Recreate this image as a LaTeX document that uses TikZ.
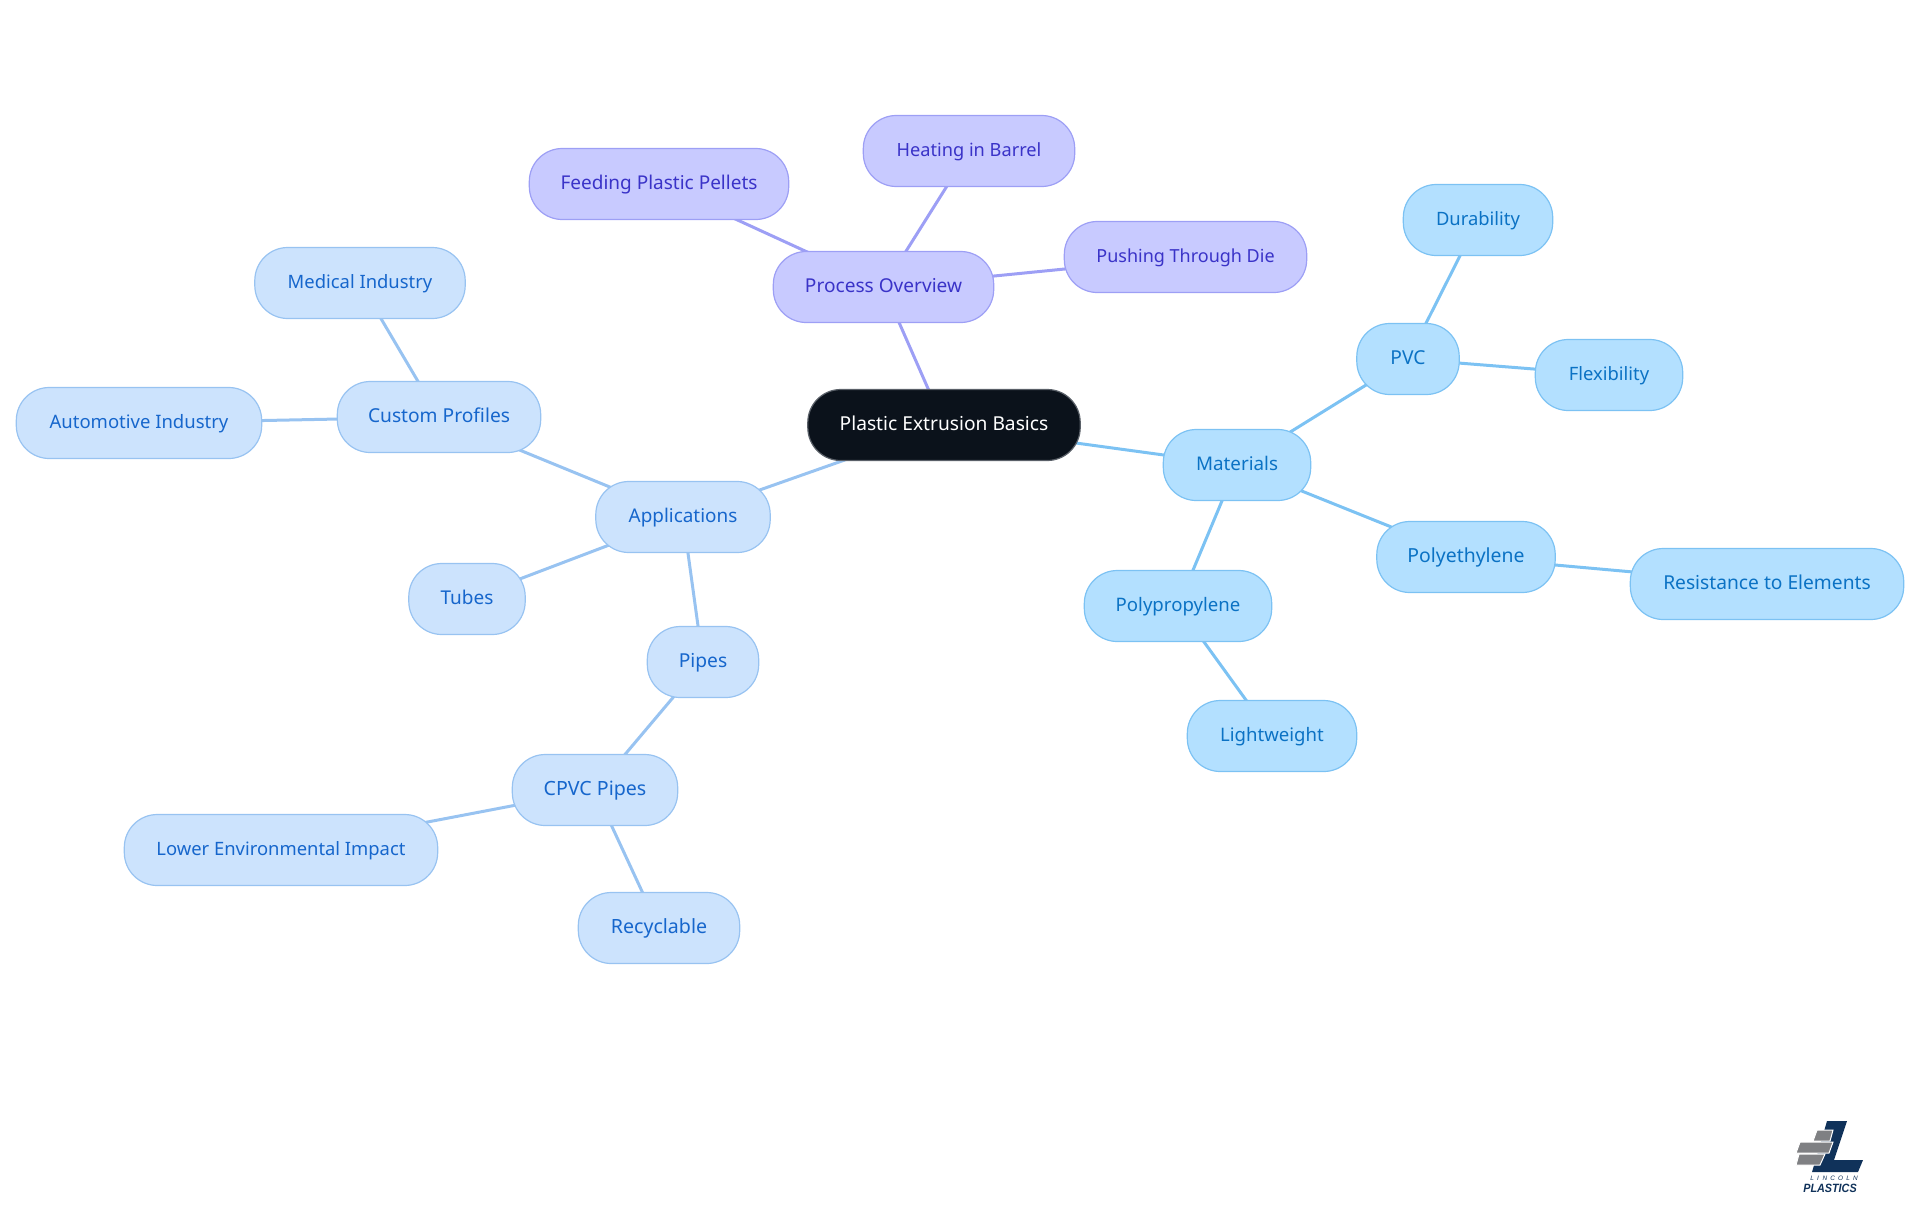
\documentclass[tikz,border=0pt]{standalone}
\usepackage{fontspec}
\setmainfont{Noto Sans}
\newfontfamily\logofont{Liberation Sans}
\usetikzlibrary{backgrounds}
\definecolor{rootfill}{HTML}{0B121B}\definecolor{rootline}{HTML}{5A6068}
\definecolor{pfill}{HTML}{C8CAFF}\definecolor{pline}{HTML}{9D9FF5}\definecolor{ptext}{HTML}{3A33C8}
\definecolor{mfill}{HTML}{B3E0FF}\definecolor{mline}{HTML}{7CC2F3}\definecolor{mtext}{HTML}{0B72C4}
\definecolor{afill}{HTML}{CCE3FD}\definecolor{aline}{HTML}{98C3F1}\definecolor{atext}{HTML}{1666CC}
\definecolor{navy}{HTML}{10325A}\definecolor{logogray}{HTML}{7F8083}
\tikzset{
 pill/.style={rectangle,rounded corners=16.5pt,line width=0.6pt,inner sep=0pt,minimum height=35.5pt,text height=7.5pt,text depth=2.5pt},
 wd/.style 2 args={minimum width=#1*0.5pt-0.3pt,font=\fontsize{#2}{12}\selectfont},
 rootnode/.style={pill,draw=rootline,fill=rootfill,text=white},
 pnode/.style={pill,draw=pline,fill=pfill,text=ptext},
 mnode/.style={pill,draw=mline,fill=mfill,text=mtext},
 anode/.style={pill,draw=aline,fill=afill,text=atext},
 pedge/.style={draw=pline,line width=1.5pt},
 medge/.style={draw=mline,line width=1.5pt},
 aedge/.style={draw=aline,line width=1.5pt},
}
\begin{document}
\begin{tikzpicture}[x=0.5pt,y=-0.5pt]
\useasboundingbox (0,0) rectangle (1920,1215);
\node[rootnode,wd={273}{9.6}] (root) at (944,425) {Plastic Extrusion Basics};
\node[pnode,wd={221}{9.55}] (proc) at (883.5,287) {Process Overview};
\node[pnode,wd={260}{9.5}] (feed) at (659,184) {Feeding Plastic Pellets};
\node[pnode,wd={212}{9.1}] (heat) at (969,151) {Heating in Barrel};
\node[pnode,wd={243}{9.0}] (push) at (1185.5,257) {Pushing Through Die};
\node[mnode,wd={148}{9.4}] (mat) at (1237,465) {Materials};
\node[mnode,wd={103}{9.6}] (pvc) at (1408,359) {PVC};
\node[mnode,wd={150}{9.2}] (dur) at (1478,220) {Durability};
\node[mnode,wd={148}{9.2}] (flex) at (1609,375) {Flexibility};
\node[mnode,wd={179}{9.7}] (pe) at (1466,557) {Polyethylene};
\node[mnode,wd={274}{9.6}] (res) at (1767,584) {Resistance to Elements};
\node[mnode,wd={188}{9.3}] (pp) at (1178,606) {Polypropylene};
\node[mnode,wd={170}{9.3}] (light) at (1272,736) {Lightweight};
\node[anode,wd={175}{9.45}] (app) at (683,517) {Applications};
\node[anode,wd={204}{9.6}] (cust) at (439,417) {Custom Profiles};
\node[anode,wd={211}{9.2}] (med) at (360,283) {Medical Industry};
\node[anode,wd={246}{9.25}] (auto) at (139,423) {Automotive Industry};
\node[anode,wd={117}{9.5}] (tube) at (467,599) {Tubes};
\node[anode,wd={112}{9.6}] (pipe) at (703,662) {Pipes};
\node[anode,wd={166}{9.8}] (cpvc) at (595,790) {CPVC Pipes};
\node[anode,wd={314}{9.2}] (low) at (281,850) {Lower Environmental Impact};
\node[anode,wd={162}{9.8}] (rec) at (659,928) {Recyclable};
\begin{pgfonlayer}{background}
\draw[pedge] (root.center)--(proc.center) (proc.center)--(feed.center) (proc.center)--(heat.center) (proc.center)--(push.center);
\draw[medge] (root.center)--(mat.center) (mat.center)--(pvc.center) (mat.center)--(pe.center) (mat.center)--(pp.center) (pvc.center)--(dur.center) (pvc.center)--(flex.center) (pe.center)--(res.center) (pp.center)--(light.center);
\draw[aedge] (root.center)--(app.center) (app.center)--(cust.center) (app.center)--(tube.center) (app.center)--(pipe.center) (cust.center)--(med.center) (cust.center)--(auto.center) (pipe.center)--(cpvc.center) (cpvc.center)--(low.center) (cpvc.center)--(rec.center);
\end{pgfonlayer}
% logo
\fill[navy] (1827,1121)--(1847,1121)--(1834,1160)--(1863,1160)--(1858,1172)--(1812,1172)--cycle;
\draw[white,line width=0.5pt,fill=logogray] (1817,1130)--(1833,1130)--(1830,1141)--(1813,1141)--cycle;
\draw[white,line width=0.5pt,fill=logogray] (1800,1142)--(1833,1142)--(1829,1153)--(1796,1153)--cycle;
\draw[white,line width=0.5pt,fill=logogray] (1799,1154)--(1825,1154)--(1820,1165)--(1796,1165)--cycle;
\node[inner sep=0pt,text=navy,font=\logofont\itshape\fontsize{3.2}{4}\selectfont] (lincoln) at (1834,1178.5) {L\hspace{1.6pt}I\hspace{1.9pt}N\hspace{1.6pt}C\hspace{1.6pt}O\hspace{1.6pt}L\hspace{1.6pt}N};
\node[inner sep=0pt,text=navy,xscale=0.9,font=\logofont\bfseries\itshape\fontsize{6}{6}\selectfont] (plastics) at (1830,1188.5) {PLASTICS};
\end{tikzpicture}
\end{document}
